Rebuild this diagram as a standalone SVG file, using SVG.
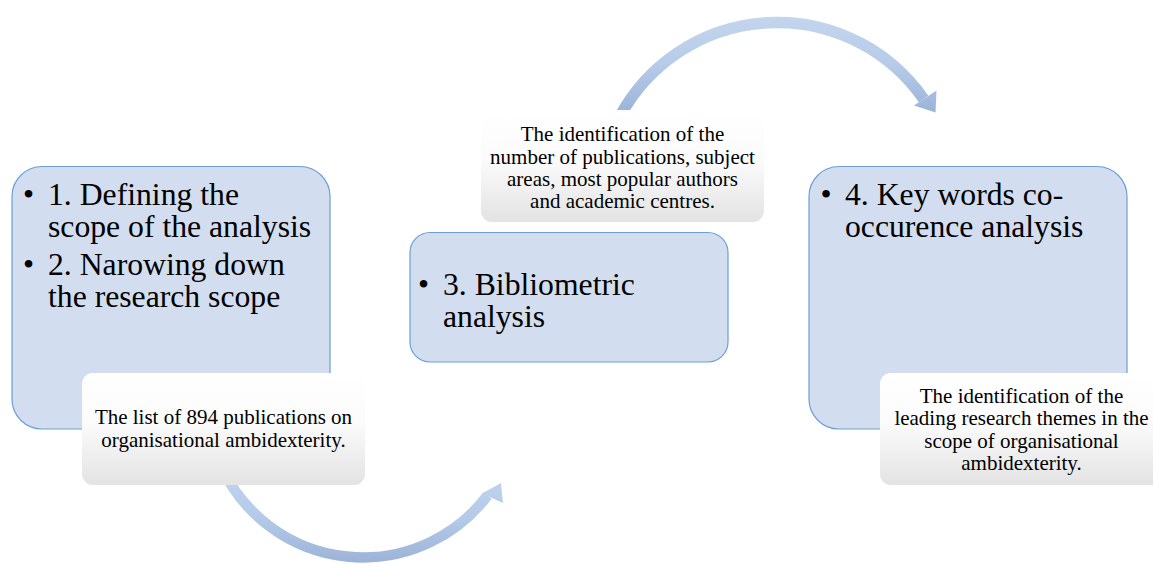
<svg xmlns="http://www.w3.org/2000/svg" width="1153" height="564" viewBox="0 0 1153 564">
  <style>
    .box { fill: #D2DDEF; stroke: #6C9FD6; stroke-width: 1.2; }
    .note { fill: url(#noteGrad); stroke: none; }
    .big { font-family: "Liberation Serif", "Times New Roman", serif; font-size: 31.7px; fill: #000; }
    .small { font-family: "Liberation Serif", "Times New Roman", serif; font-size: 21px; fill: #000; text-anchor: middle; }
    .bul { text-anchor: middle; }
  </style>
  <defs>
    <linearGradient id="noteGrad" x1="0" y1="0" x2="0" y2="1">
      <stop offset="0" stop-color="#FFFFFF"/>
      <stop offset="0.45" stop-color="#FBFBFB"/>
      <stop offset="1" stop-color="#E3E3E3"/>
    </linearGradient>
    <linearGradient id="arcTop" gradientUnits="userSpaceOnUse" x1="0" y1="16" x2="0" y2="112">
      <stop offset="0" stop-color="#C4D5ED"/>
      <stop offset="0.5" stop-color="#B7CCE9"/>
      <stop offset="1" stop-color="#9BB4D8"/>
    </linearGradient>
    <linearGradient id="arcBottom" gradientUnits="userSpaceOnUse" x1="0" y1="470" x2="0" y2="564">
      <stop offset="0" stop-color="#C2D5EF"/>
      <stop offset="0.5" stop-color="#B4CAE9"/>
      <stop offset="1" stop-color="#9BB3D7"/>
    </linearGradient>
  </defs>

  <g id="connectors">
    <g id="arrow-top">
      <path d="M 620.6 115 A 178.5 178.5 0 0 1 923.6 99" fill="none" stroke="url(#arcTop)" stroke-width="11.5"/>
      <polygon points="914,105.5 936.5,90.5 935.5,112.5" fill="url(#arcTop)"/>
    </g>
    <g id="arrow-bottom">
      <path d="M 222 468 A 156 156 0 0 0 487.5 495.5" fill="none" stroke="url(#arcBottom)" stroke-width="10.5"/>
      <polygon points="482,493.5 501,483 503,503" fill="url(#arcBottom)"/>
    </g>
  </g>

  <g id="node1">
    <rect class="box" x="12" y="166.5" width="318" height="262.5" rx="30" ry="30"/>
    <text class="big bul" x="28.5" y="205">•</text>
    <text class="big"><tspan x="48" y="205">1. Defining the</tspan><tspan x="48" y="236.5">scope of the analysis</tspan></text>
    <text class="big bul" x="28.5" y="275">•</text>
    <text class="big"><tspan x="48" y="275">2. Narowing down</tspan><tspan x="48" y="306.5">the research scope</tspan></text>
  </g>
  <g id="note1">
    <rect class="note" x="82" y="373" width="283" height="112" rx="11" ry="11"/>
    <text class="small"><tspan x="223.5" y="424">The list of 894 publications on</tspan><tspan x="223.5" y="446.5">organisational ambidexterity.</tspan></text>
  </g>

  <g id="node3">
    <rect class="box" x="410" y="232.5" width="318" height="129.5" rx="20" ry="20"/>
    <text class="big bul" x="423.5" y="295">•</text>
    <text class="big"><tspan x="443" y="295">3. Bibliometric</tspan><tspan x="443" y="326.5">analysis</tspan></text>
  </g>
  <g id="note3">
    <rect class="note" x="481" y="110" width="283" height="112" rx="11" ry="11"/>
    <text class="small"><tspan x="622.5" y="141">The identification of the</tspan><tspan x="622.5" y="163.5">number of publications, subject</tspan><tspan x="622.5" y="186">areas, most popular authors</tspan><tspan x="622.5" y="208">and academic centres.</tspan></text>
  </g>

  <g id="node4">
    <rect class="box" x="809" y="166.5" width="318" height="262.5" rx="30" ry="30"/>
    <text class="big bul" x="826" y="205">•</text>
    <text class="big"><tspan x="845" y="205">4. Key words co-</tspan><tspan x="845" y="236.5">occurence analysis</tspan></text>
  </g>
  <g id="note4">
    <rect class="note" x="880" y="373" width="283" height="112" rx="11" ry="11"/>
    <text class="small"><tspan x="1021.5" y="402.5">The identification of the</tspan><tspan x="1021.5" y="425">leading research themes in the</tspan><tspan x="1021.5" y="447.5">scope of organisational</tspan><tspan x="1021.5" y="470">ambidexterity.</tspan></text>
  </g>
</svg>
